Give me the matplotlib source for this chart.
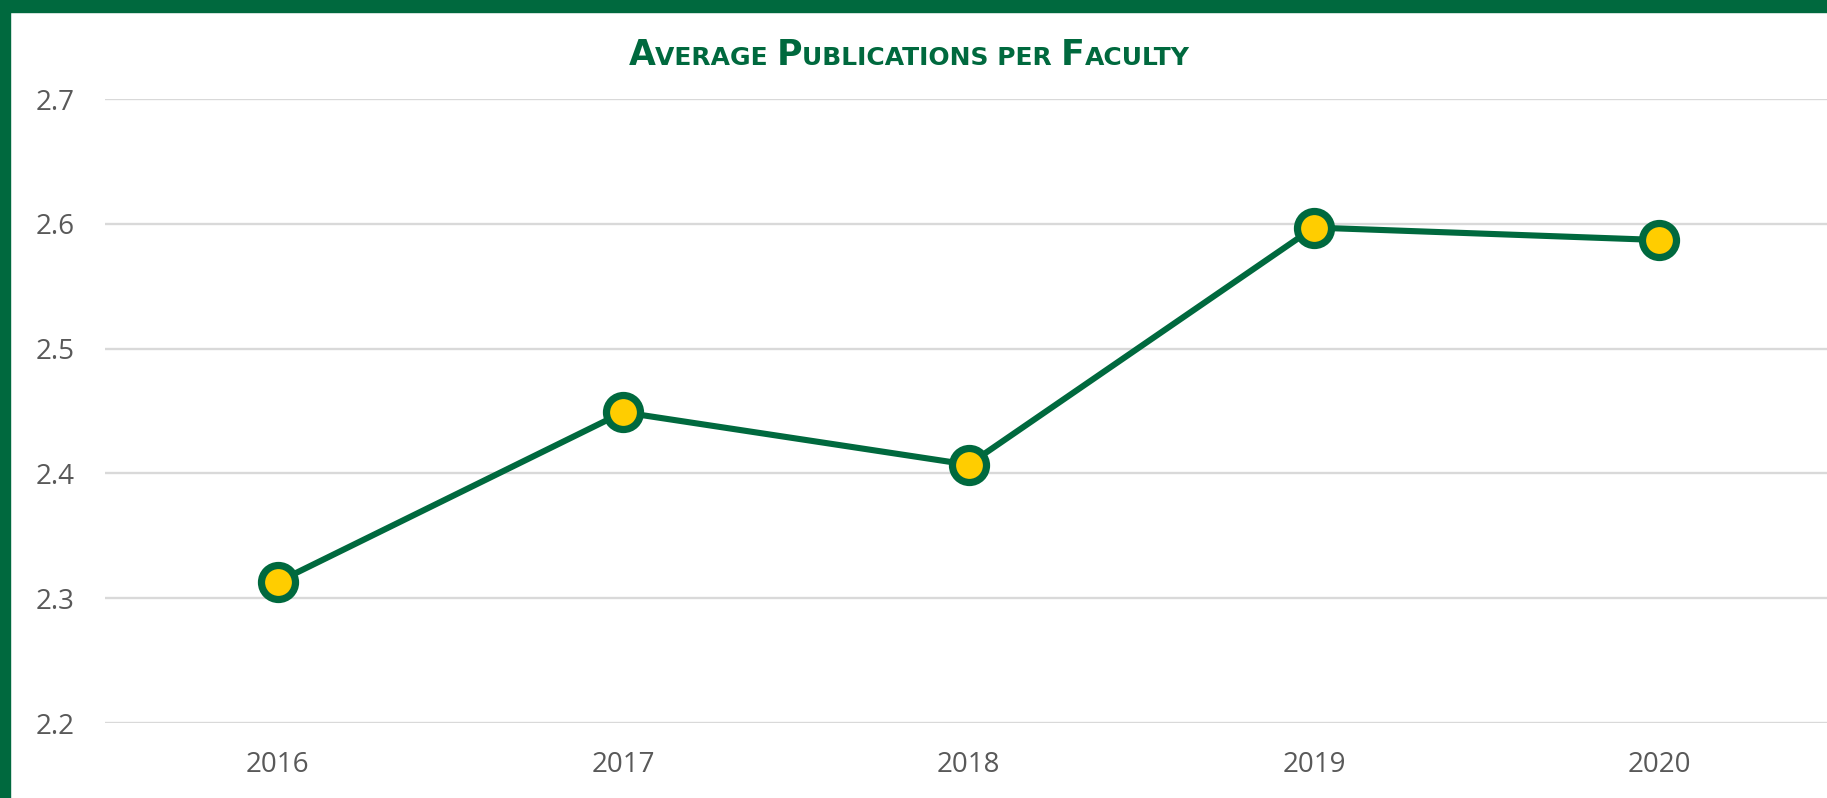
#!/usr/bin/env python3
import matplotlib
matplotlib.use("Agg")
import matplotlib.pyplot as plt
from matplotlib.patches import Rectangle
from matplotlib.offsetbox import TextArea, HPacker, AnchoredOffsetbox

years = ["2016", "2017", "2018", "2019", "2020"]
avg_pubs = [2.313, 2.449, 2.407, 2.597, 2.587]
y_ticks = [2.2, 2.3, 2.4, 2.5, 2.6, 2.7]

GREEN = "#00693E"
GOLD = "#FFCD00"
GRID = "#D9D9D9"
TEXT = "#595959"

W, H = 1827, 798
fig = plt.figure(figsize=(W / 100, H / 100), dpi=100)
fig.patch.set_facecolor("white")

# green frame pieces (top band + left band)
fig.add_artist(Rectangle((0, 1 - 12 / H), 1, 12 / H, transform=fig.transFigure,
                         color=GREEN, zorder=0))
fig.add_artist(Rectangle((0, 0), 10 / W, 1, transform=fig.transFigure,
                         color=GREEN, zorder=0))

# plot area in pixels: x 105..1832, y 99 (2.7) .. 723 (2.2)
ax = fig.add_axes([105 / W, 1 - 723 / H, (1832 - 105) / W, (723 - 99) / H])
ax.set_facecolor("none")

x = list(range(len(years)))
ax.plot(x, avg_pubs, color=GREEN, lw=4.4, zorder=3, solid_capstyle="round",
        marker="o", ms=24.5, mfc=GOLD, mec=GREEN, mew=5.2, clip_on=False)

ax.set_xlim(-0.5, len(years) - 0.5)
ax.set_ylim(2.2, 2.7)
ax.set_yticks(y_ticks)
ax.set_yticklabels([f"{v:.1f}" for v in y_ticks])
ax.set_xticks(x)
ax.set_xticklabels(years)

ax.grid(axis="y", color=GRID, lw=1.7)
ax.set_axisbelow(True)
for s in ax.spines.values():
    s.set_visible(False)
ax.tick_params(length=0, labelsize=20, labelcolor=TEXT)
ax.tick_params(axis="y", pad=22)
ax.tick_params(axis="x", pad=20)
for lab in ax.get_xticklabels() + ax.get_yticklabels():
    lab.set_family(["Open Sans", "DejaVu Sans"])

# small-caps style title built from pieces
big = dict(color=GREEN, fontsize=25, fontweight="bold",
           family=["Liberation Sans Narrow", "DejaVu Sans"])
small = dict(big, fontsize=18)
parts = [("A", big), ("VERAGE ", small), ("P", big), ("UBLICATIONS PER ", small),
         ("F", big), ("ACULTY", small)]
boxes = [TextArea(t, textprops=p) for t, p in parts]
pack = HPacker(children=boxes, align="baseline", pad=0, sep=0)
title = AnchoredOffsetbox(loc="lower center", child=pack, pad=0, borderpad=0,
                          frameon=False, bbox_to_anchor=(909 / W, 1 - 72 / H),
                          bbox_transform=fig.transFigure)
fig.add_artist(title)

fig.savefig("out.png", dpi=100)
